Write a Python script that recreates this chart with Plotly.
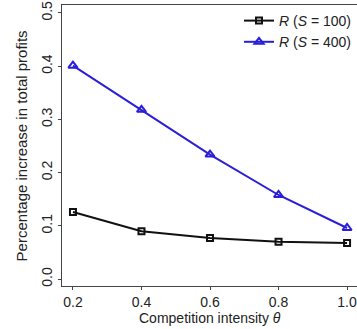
import plotly.graph_objects as go

theta = [0.2, 0.4, 0.6, 0.8, 1.0]
r_s100 = [0.126, 0.090, 0.077, 0.070, 0.068]
r_s400 = [0.401, 0.318, 0.234, 0.158, 0.096]
x_ticks = [0.2, 0.4, 0.6, 0.8, 1.0]
x_tick_labels = ["0.2", "0.4", "0.6", "0.8", "1.0"]
y_ticks = [0.0, 0.1, 0.2, 0.3, 0.4, 0.5]
y_tick_labels = ["0.0", "0.1", "0.2", "0.3", "0.4", "0.5"]

txt = "#222222"
font = dict(family="Liberation Sans, Arial, sans-serif", size=14, color=txt)

fig = go.Figure()
fig.add_trace(go.Scatter(
    x=theta, y=r_s100, mode="lines+markers",
    name="<i>R</i> (<i>S</i> = 100)",
    line=dict(color="#111111", width=2),
    marker=dict(symbol="square-open", size=6, color="#111111", line=dict(width=2)),
))
fig.add_trace(go.Scatter(
    x=theta, y=r_s400, mode="lines+markers",
    name="<i>R</i> (<i>S</i> = 400)",
    line=dict(color="#2a1fd6", width=2),
    marker=dict(symbol="triangle-up-open", size=8, color="#2a1fd6", line=dict(width=2)),
))

fig.update_layout(
    width=357, height=329,
    margin=dict(l=62, r=0, t=5, b=43),
    paper_bgcolor="white", plot_bgcolor="white",
    font=font,
    showlegend=True,
    legend=dict(x=1.0, y=1.0, xanchor="right", yanchor="top",
                bgcolor="rgba(0,0,0,0)", font=dict(size=14, color=txt),
                tracegroupgap=0, itemwidth=30),
    xaxis=dict(range=[0.168, 1.029], tickvals=x_ticks, ticktext=x_tick_labels,
               showgrid=False, zeroline=False, showline=True, mirror=True,
               linecolor="#444444", linewidth=1, ticks="outside", ticklen=3,
               tickcolor="#444444", tickfont=dict(size=14, color=txt),
               ticklabeloverflow="allow"),
    yaxis=dict(range=[-0.013, 0.515], tickvals=y_ticks, ticktext=y_tick_labels,
               showgrid=False, zeroline=False, showline=True, mirror=False,
               linecolor="#444444", linewidth=1, ticks="outside", ticklen=3,
               tickcolor="#444444", tickangle=-90, tickfont=dict(size=14, color=txt)),
    annotations=[
        dict(text="Competition intensity <i>θ</i>", x=0.5, y=-0.114, xref="paper", yref="paper",
             xanchor="center", yanchor="middle", showarrow=False, font=dict(size=14, color=txt)),
        dict(text="Percentage increase in total profits", x=-0.136, y=0.5, xref="paper", yref="paper",
             xanchor="center", yanchor="middle", textangle=-90, showarrow=False,
             font=dict(size=15, color=txt)),
    ],
)

fig.write_html("out.html", config={"displayModeBar": False},
               post_script="document.body.style.margin='0px';document.body.style.overflow='hidden';")
